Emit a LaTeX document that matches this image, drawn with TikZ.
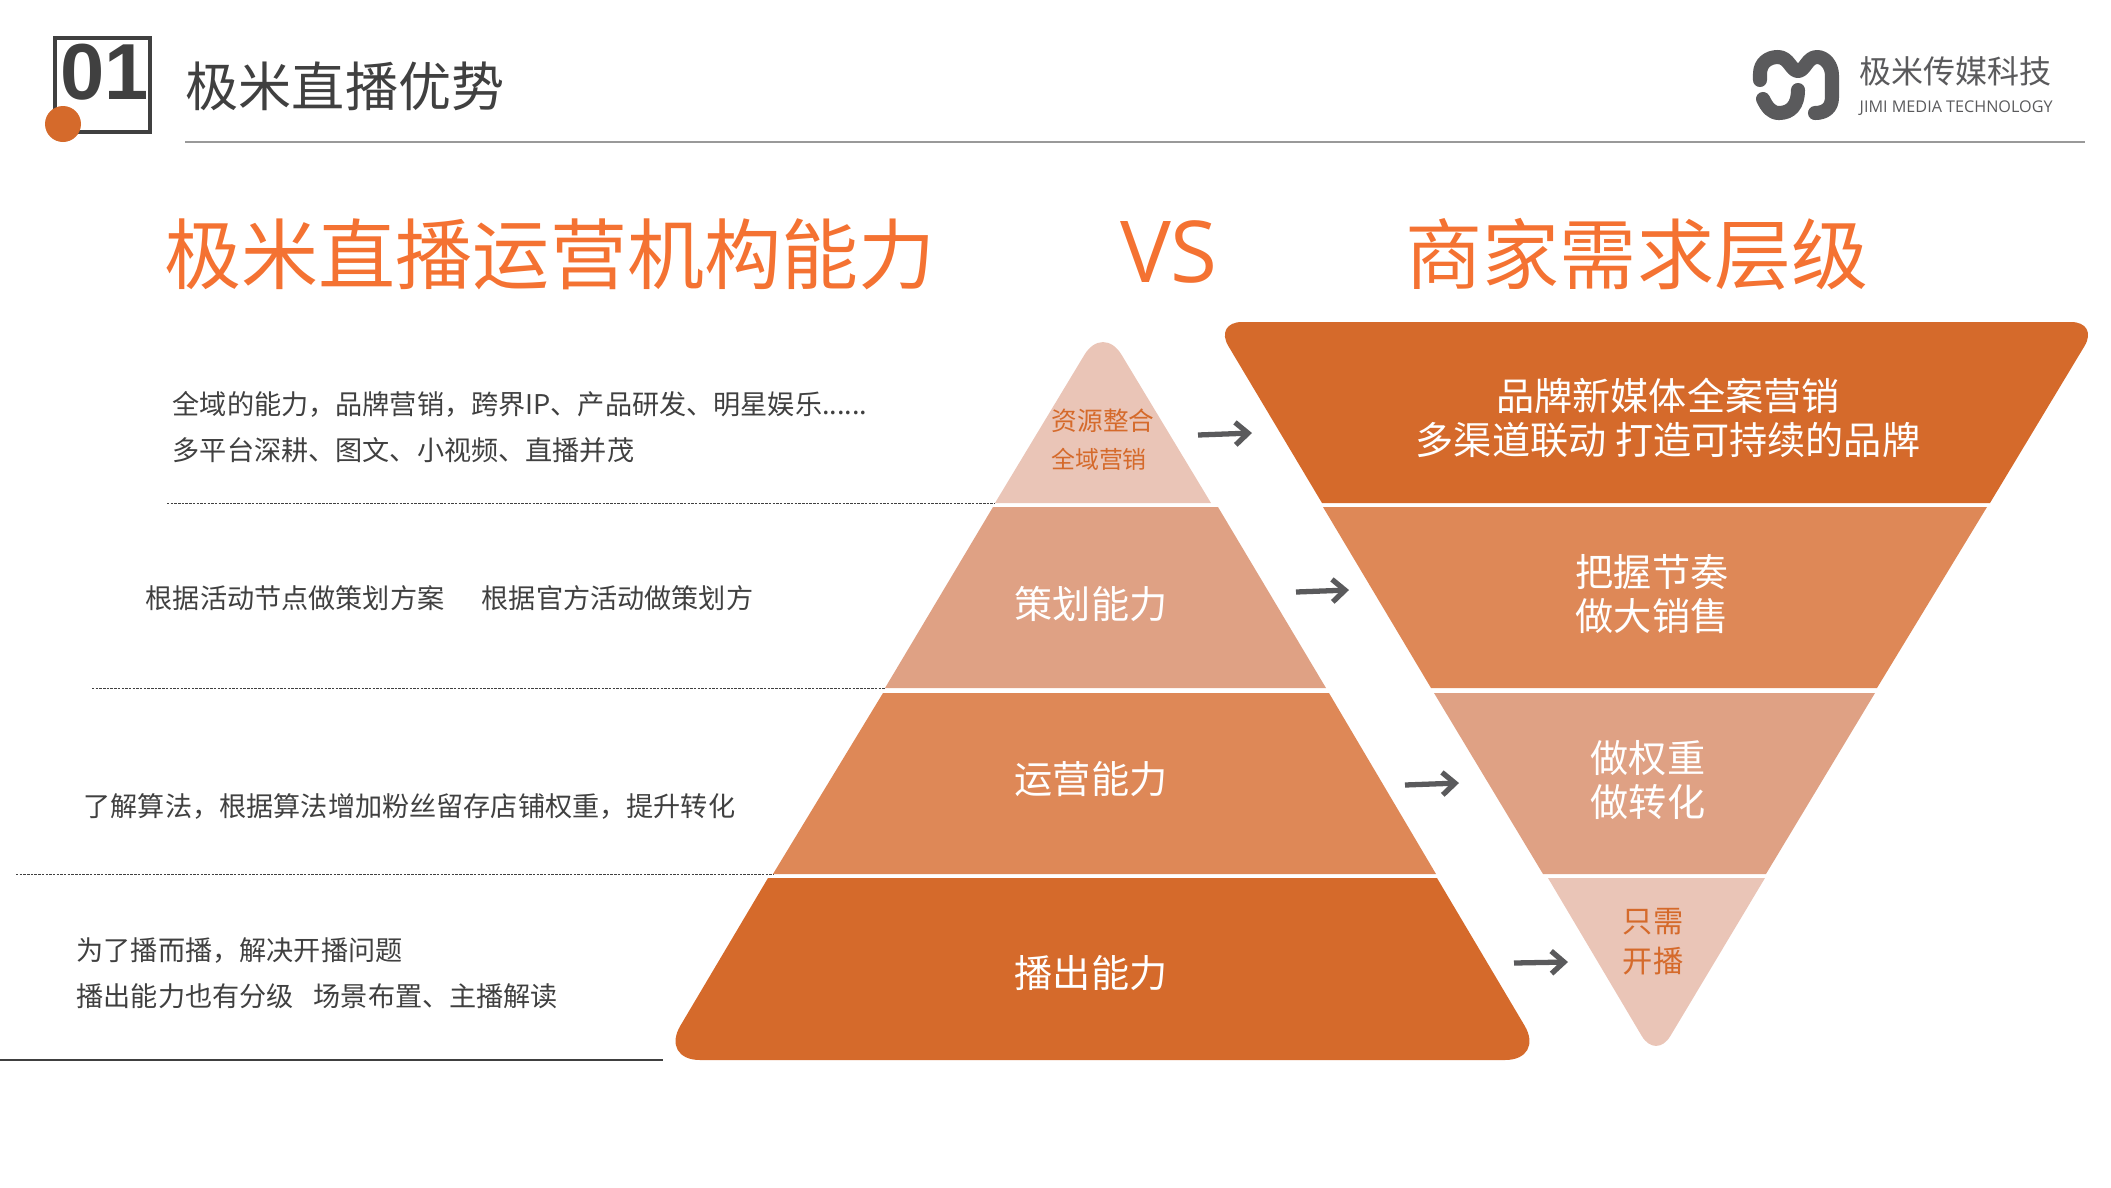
\documentclass[tikz,border=0pt]{standalone}
\usepackage{fontspec}
\setmainfont{Noto Sans CJK SC}
\newfontfamily\latinbold{Liberation Sans}
\newfontfamily\latinsans{Open Sans}
\usetikzlibrary{arrows.meta}
\definecolor{deep}{HTML}{D56A2B}
\definecolor{mid}{HTML}{DE8857}
\definecolor{soft}{HTML}{DFA184}
\definecolor{pale}{HTML}{EAC5B7}
\definecolor{headline}{HTML}{F47232}
\definecolor{ink}{HTML}{404040}
\definecolor{logogray}{HTML}{5A5A5C}
\tikzset{
	note/.style={anchor=west, inner sep=0, text=ink, font=\fontsize{7.72}{9}\selectfont},
	bigtitle/.style={inner sep=0, text=headline, font=\fontsize{21.9}{26}\selectfont},
	layerlabel/.style={inner sep=0, text=white, align=center, font=\fontsize{10.85}{12.4}\selectfont},
	palelabel/.style={inner sep=0, text=deep, font=\fontsize{8.6}{10}\selectfont},
	divider/.style={ink, line width=0.25pt, dash pattern=on 0.7pt off 0.35pt},
	flowarrow/.style={-{Straight Barb[length=3.6pt, width=6.4pt, line width=1.5pt]}, line width=1.5pt, logogray},
	logostroke/.style={logogray, line width=4pt, line cap=round, line join=round}
}
\begin{document}
\begin{tikzpicture}[x=0.01cm, y=-0.01cm]
	\useasboundingbox (0, 0) rectangle (2111, 1187);

	\draw[ink, line width=1.2pt] (55, 38) rectangle (150, 132);
	\fill[deep] (63, 124) circle (18);
	\node[inner sep=0, text=ink, font=\latinbold\bfseries\fontsize{22.6}{24}\selectfont] (num) at (105, 72) {01};
	\node[anchor=west, inner sep=0, text=ink, font=\fontsize{15.1}{19}\selectfont] (title) at (185, 86) {极米直播优势};
	\draw[color=black!40, line width=0.4pt] (185, 142) -- (2085, 142);

	\draw[logostroke] (1760, 80) -- (1760, 74) .. controls (1760, 63) and (1768, 57) .. (1778, 57) .. controls (1789, 57) and (1791, 71) .. (1798, 71) .. controls (1805, 71) and (1807, 57) .. (1817, 57) .. controls (1825, 57) and (1832, 65) .. (1832, 76) -- (1832, 97) .. controls (1832, 108) and (1825, 113) .. (1815, 113);
	\draw[logostroke] (1763, 99) .. controls (1767, 107) and (1771, 113) .. (1779, 113) .. controls (1791, 113) and (1798, 105) .. (1798, 90);
	\node[anchor=west, inner sep=0, text=logogray, font=\fontsize{9.1}{11}\selectfont] (logocn) at (1859, 71) {极米传媒科技};
	\node[anchor=west, inner sep=0, text=logogray, font=\latinsans\fontsize{4.6}{6}\selectfont] (logoen) at (1859, 108) {JIMI MEDIA TECHNOLOGY};

	\node[bigtitle] (lefthead) at (550, 254) {极米直播运营机构能力};
	\node[bigtitle, font=\latinsans\fontsize{24.3}{26}\selectfont] (vs) at (1169, 252) {VS};
	\node[bigtitle] (righthead) at (1637, 254) {商家需求层级};

	\draw[divider] (167, 503) -- (995, 503);
	\draw[divider] (92, 688) -- (885, 688);
	\draw[divider] (16, 874) -- (773, 874);
	\draw[ink, line width=0.4pt] (0, 1060) -- (663, 1060);

	\fill[pale] (995, 503) [rounded corners=0.36cm] -- (1103, 324) [sharp corners] -- (1211, 503) -- cycle;
	\fill[soft] (993, 507) -- (1218, 507) -- (1326, 688) -- (885, 688) -- cycle;
	\fill[mid] (883, 693) -- (1329, 693) -- (1436, 874) -- (773, 874) -- cycle;
	\fill[deep] (768, 878) -- (1437, 878) [rounded corners=0.4cm] -- (1545, 1060) -- (660, 1060) [sharp corners] -- cycle;

	\fill[deep] (1322, 503) [rounded corners=0.28cm] -- (1214, 322) -- (2099, 322) [sharp corners] -- (1990, 503) -- cycle;
	\fill[mid] (1323, 507) -- (1987, 507) -- (1877, 688) -- (1431, 688) -- cycle;
	\fill[soft] (1434, 693) -- (1875, 693) -- (1766, 874) -- (1543, 874) -- cycle;
	\fill[pale] (1548, 878) [rounded corners=0.28cm] -- (1656, 1060) [sharp corners] -- (1765, 878) -- cycle;

	\node[palelabel, font=\fontsize{7.3}{9}\selectfont] (res) at (1103, 421) {资源整合};
	\node[palelabel, font=\fontsize{6.8}{8}\selectfont] (dom) at (1099, 459) {全域营销};
	\node[layerlabel] (plan) at (1091, 604) {策划能力};
	\node[layerlabel] (oper) at (1091, 779) {运营能力};
	\node[layerlabel] (cast) at (1091, 973) {播出能力};

	\node[layerlabel] (brand) at (1668, 418) {品牌新媒体全案营销\\多渠道联动 打造可持续的品牌};
	\node[layerlabel] (rhythm) at (1652, 594) {把握节奏\\做大销售};
	\node[layerlabel] (weight) at (1648, 780) {做权重\\做转化};
	\node[palelabel] (only) at (1653, 922) {只需};
	\node[palelabel] (open) at (1653, 961) {开播};

	\node[note] (t1) at (172, 404) {全域的能力，品牌营销，跨界IP、产品研发、明星娱乐......};
	\node[note] (t2) at (172, 450) {多平台深耕、图文、小视频、直播并茂};
	\node[note] (t3) at (145, 598) {根据活动节点做策划方案};
	\node[note] (t4) at (481, 598) {根据官方活动做策划方};
	\node[note] (t5) at (83, 806) {了解算法，根据算法增加粉丝留存店铺权重，提升转化};
	\node[note] (t6) at (76, 951) {为了播而播，解决开播问题};
	\node[note] (t7) at (76, 996) {播出能力也有分级};
	\node[note] (t8) at (313, 996) {场景布置、主播解读};

	\coordinate (a1) at (1198, 435);
	\coordinate (b1) at (1252, 433);
	\coordinate (a2) at (1296, 592);
	\coordinate (b2) at (1349, 590);
	\coordinate (a3) at (1405, 785);
	\coordinate (b3) at (1459, 783);
	\coordinate (a4) at (1514, 963);
	\coordinate (b4) at (1568, 962);
	\draw[flowarrow] (a1) -- (b1);
	\draw[flowarrow] (a2) -- (b2);
	\draw[flowarrow] (a3) -- (b3);
	\draw[flowarrow] (a4) -- (b4);
\end{tikzpicture}
\end{document}
